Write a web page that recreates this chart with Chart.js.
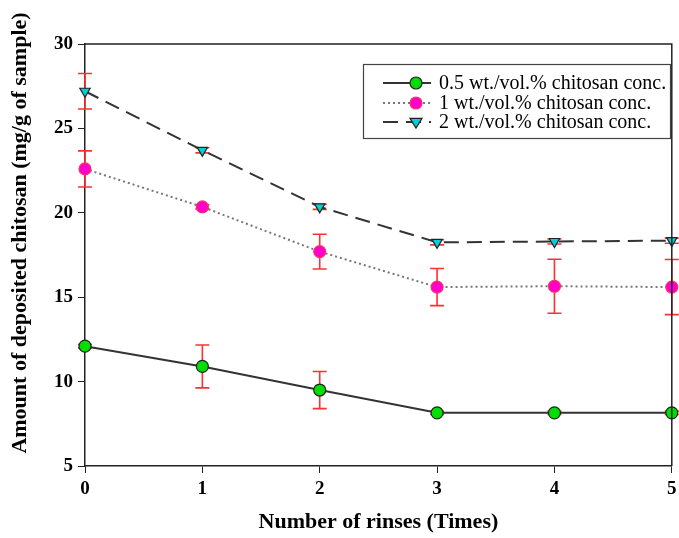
<!DOCTYPE html>
<html>
<head>
<meta charset="utf-8">
<script src="https://cdn.jsdelivr.net/npm/chart.js@4"></script>
<style>
  html, body { margin: 0; padding: 0; background: #fff; }
  #wrap { width: 679px; height: 538px; position: relative; }
</style>
</head>
<body>
<div id="wrap"><canvas id="chart"></canvas></div>
<script>
const rinses = ['0', '1', '2', '3', '4', '5'];
const yTicks = [5, 10, 15, 20, 25, 30];

const seriesNames = [
    '0.5 wt./vol.% chitosan conc.',
    '1 wt./vol.% chitosan conc.',
    '2 wt./vol.% chitosan conc.'
];
const lowConc = [12.1, 10.9, 9.5, 8.15, 8.15, 8.15];
const midConc = [22.6, 20.35, 17.7, 15.6, 15.65, 15.6];
const highConc = [27.2, 23.7, 20.35, 18.25, 18.3, 18.35];

const lowErr = [0.1, 1.27, 1.1, 0.1, 0.1, 0.1];
const midErr = [1.07, 0.12, 1.03, 1.1, 1.6, 1.63];
const highErr = [1.05, 0.15, 0.15, 0.15, 0.15, 0.15];

const yTitle = 'Amount of deposited chitosan (mg/g of sample)';
const xTitle = 'Number of rinses (Times)';

const serif = "'Liberation Serif', 'DejaVu Serif', serif";

// red error bars, drawn from each dataset's errors array
const errorBars = {
    id: 'errorBars',
    beforeDatasetsDraw(chart) {
        const ctx = chart.ctx;
        const x = chart.scales.x;
        const y = chart.scales.y;
        ctx.save();
        ctx.strokeStyle = '#ff3030';
        ctx.lineWidth = 1.6;
        chart.data.datasets.forEach(ds => {
            ds.data.forEach((v, i) => {
                const e = ds.errors[i];
                const px = x.getPixelForValue(i);
                const top = y.getPixelForValue(v + e);
                const bot = y.getPixelForValue(v - e);
                ctx.beginPath();
                ctx.moveTo(px, top); ctx.lineTo(px, bot);
                ctx.moveTo(px - 7, top); ctx.lineTo(px + 7, top);
                ctx.moveTo(px - 7, bot); ctx.lineTo(px + 7, bot);
                ctx.stroke();
            });
        });
        ctx.restore();
    }
};

// plot frame, y title and boxed legend
const frameAndLegend = {
    id: 'frameAndLegend',
    afterDraw(chart) {
        const ctx = chart.ctx;
        const a = chart.chartArea;
        ctx.save();
        ctx.strokeStyle = '#222';
        ctx.lineWidth = 1.5;
        ctx.beginPath();
        ctx.moveTo(a.left, a.top); ctx.lineTo(a.right, a.top); ctx.lineTo(a.right, a.bottom);
        ctx.stroke();

        // y axis title sits a bit above the axis centre in the original
        ctx.save();
        ctx.translate(20, 233);
        ctx.rotate(-Math.PI / 2);
        ctx.fillStyle = '#000';
        ctx.font = 'bold 22px ' + serif;
        ctx.textAlign = 'center';
        ctx.textBaseline = 'middle';
        ctx.fillText(yTitle, 0, 0);
        ctx.restore();

        const bx = 363, by = 64, bw = 307, bh = 74;
        ctx.fillStyle = '#fff';
        ctx.fillRect(bx, by, bw, bh);
        ctx.strokeStyle = '#444';
        ctx.lineWidth = 1.2;
        ctx.strokeRect(bx + 0.5, by + 0.5, bw, bh);

        const rowY = [83, 103, 122];
        chart.data.datasets.forEach((ds, i) => {
            const yy = rowY[i];
            ctx.strokeStyle = ds.borderColor;
            ctx.lineWidth = ds.borderWidth;
            ctx.setLineDash(ds.borderDash || []);
            ctx.beginPath();
            ctx.moveTo(383, yy); ctx.lineTo(431, yy);
            ctx.stroke();
            ctx.setLineDash([]);
            ctx.fillStyle = ds.pointBackgroundColor;
            ctx.strokeStyle = ds.pointBorderColor;
            ctx.lineWidth = ds.pointBorderWidth;
            ctx.beginPath();
            if (ds.pointStyle === 'triangle') {
                const r = ds.pointRadius;
                ctx.moveTo(416 - r, yy - r * 0.6); ctx.lineTo(416 + r, yy - r * 0.6); ctx.lineTo(416, yy + r);
                ctx.closePath();
            } else {
                ctx.arc(416, yy, ds.pointRadius, 0, Math.PI * 2);
            }
            ctx.fill(); ctx.stroke();

            ctx.fillStyle = '#000';
            ctx.font = '20px ' + serif;
            ctx.textBaseline = 'middle';
            ctx.textAlign = 'left';
            ctx.fillText(ds.label, 439, yy + 1);
        });
        ctx.restore();
    }
};

new Chart(document.getElementById('chart'), {
    type: 'line',
    data: {
        labels: rinses,
        datasets: [
            {
                label: seriesNames[0],
                data: lowConc,
                errors: lowErr,
                borderColor: '#333',
                borderWidth: 2,
                pointStyle: 'circle',
                pointRadius: 6,
                pointBackgroundColor: '#00e000',
                pointBorderColor: '#222',
                pointBorderWidth: 1.2,
                tension: 0
            },
            {
                label: seriesNames[1],
                data: midConc,
                errors: midErr,
                borderColor: '#777',
                borderWidth: 2,
                borderDash: [2, 3],
                pointStyle: 'circle',
                pointRadius: 6,
                pointBackgroundColor: '#ff00cc',
                pointBorderColor: '#ff3060',
                pointBorderWidth: 1.2,
                tension: 0
            },
            {
                label: seriesNames[2],
                data: highConc,
                errors: highErr,
                borderColor: '#333',
                borderWidth: 2,
                borderDash: [15, 8],
                pointStyle: 'triangle',
                pointRotation: 180,
                pointRadius: 6,
                pointBackgroundColor: '#00d0d8',
                pointBorderColor: '#222',
                pointBorderWidth: 1.2,
                tension: 0
            }
        ]
    },
    options: {
        responsive: true,
        maintainAspectRatio: false,
        animation: false,
        layout: {
            padding: { top: 44, right: 6, left: 0, bottom: 0 }
        },
        scales: {
            x: {
                type: 'category',
                offset: false,
                border: { color: '#222', width: 1.5 },
                grid: { display: true, drawOnChartArea: false, drawTicks: true, tickLength: 7, color: '#222' },
                ticks: {
                    color: '#000',
                    font: { family: serif, size: 19, weight: 'bold' },
                    padding: 5,
                    maxRotation: 0
                },
                title: {
                    display: true,
                    text: xTitle,
                    color: '#000',
                    font: { family: serif, size: 22, weight: 'bold' },
                    padding: { top: 8, bottom: 2 }
                },
                afterFit(scale) {
                    scale.height = 72;
                    // let the last label run to the edge like the original
                    scale.paddingRight = 0;
                    scale.paddingLeft = 0;
                }
            },
            y: {
                min: 5,
                max: 30,
                border: { color: '#222', width: 1.5 },
                grid: { display: true, drawOnChartArea: false, drawTicks: true, tickLength: 7, color: '#222' },
                afterBuildTicks(scale) { scale.ticks = yTicks.map(v => ({ value: v })); },
                ticks: {
                    color: '#000',
                    font: { family: serif, size: 19, weight: 'bold' },
                    padding: 5
                },
                title: { display: false },
                afterFit(scale) {
                    scale.width = 85;
                    scale.paddingTop = 0;
                }
            }
        },
        plugins: {
            legend: { display: false },
            tooltip: { enabled: false }
        }
    },
    plugins: [errorBars, frameAndLegend]
});
</script>
</body>
</html>
